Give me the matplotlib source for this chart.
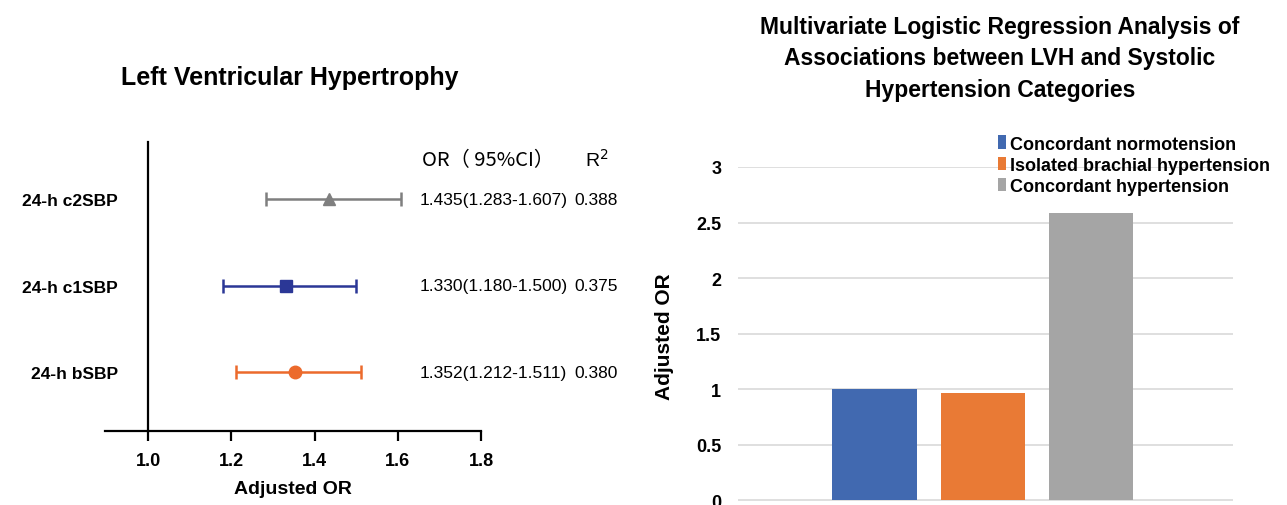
import numpy as np
import matplotlib
matplotlib.use("Agg")
import matplotlib.pyplot as plt

plt.rcParams['font.family'] = ['Liberation Sans', 'DejaVu Sans']

# forest plot data
rows = ["24-h c2SBP", "24-h c1SBP", "24-h bSBP"]
or_val = [1.435, 1.330, 1.352]
ci_low = [1.283, 1.180, 1.212]
ci_high = [1.607, 1.500, 1.511]
r2 = ["0.388", "0.375", "0.380"]
row_colors = ["#7f7f7f", "#2b3796", "#ec6a2c"]
row_markers = ["^", "s", "o"]

# bar chart data
groups = ["Concordant normotension", "Isolated brachial hypertension", "Concordant hypertension"]
adj_or = [1.0, 0.96, 2.59]
bar_colors = ["#4169b0", "#e97a35", "#a5a5a5"]

fig = plt.figure(figsize=(12.87, 5.06), dpi=100)

# ---- left: forest plot ----
ax1 = fig.add_axes([105/1287, 74/506, 376/1287, 289/506])
ypos = [2, 1, 0]
for i in range(3):
    ax1.errorbar(or_val[i], ypos[i],
                 xerr=[[or_val[i] - ci_low[i]], [ci_high[i] - or_val[i]]],
                 fmt=row_markers[i], color=row_colors[i], ms=9, lw=1.8,
                 capsize=5, capthick=1.8)
    ax1.text(1.653, ypos[i], "%.3f(%.3f-%.3f)" % (or_val[i], ci_low[i], ci_high[i]),
             fontsize=12.5, va='center', ha='left')
    ax1.text(2.025, ypos[i], r2[i], fontsize=12.5, va='center', ha='left')
ax1.text(1.658, 2.46, "OR（ 95%CI）", fontsize=14.5, va='center', ha='left',
         family=['Noto Sans CJK SC', 'DejaVu Sans'], fontweight='light')
ax1.text(2.05, 2.46, "R$^2$", fontsize=14, va='center', ha='left')

ax1.set_xlim(0.896, 1.8)
ax1.set_ylim(-0.682, 2.659)
ax1.spines['left'].set_position(('data', 1.0))
ax1.spines['right'].set_visible(False)
ax1.spines['top'].set_visible(False)
ax1.spines['left'].set_linewidth(1.6)
ax1.spines['bottom'].set_linewidth(1.6)
ax1.set_xticks([1.0, 1.2, 1.4, 1.6, 1.8])
ax1.set_xticklabels(["1.0", "1.2", "1.4", "1.6", "1.8"], fontsize=13, fontweight='bold')
ax1.tick_params(axis='x', length=7, width=1.6, pad=8)
ax1.set_yticks(ypos)
ax1.set_yticklabels(rows, fontsize=12.5, fontweight='bold')
ax1.tick_params(axis='y', length=0, pad=22)
ax1.set_xlabel("Adjusted OR", fontsize=14, fontweight='bold', labelpad=8)
fig.text(290/1287, 1 - 78/506, "Left Ventricular Hypertrophy", fontsize=18,
         fontweight='bold', ha='center', va='center')

# ---- right: bar chart ----
ax2 = fig.add_axes([738/1287, 0, 495/1287, 338/506])
xpos = np.arange(3)
bars = ax2.bar(xpos, adj_or, width=0.78, color=bar_colors, zorder=3)
ax2.set_xlim(-1.26, 3.31)
ax2.set_ylim(-0.045, 3.0)
ax2.set_yticks([0, 0.5, 1, 1.5, 2, 2.5, 3])
ax2.set_yticklabels(["0", "0.5", "1", "1.5", "2", "2.5", "3"], fontsize=13, fontweight='bold')
ax2.tick_params(axis='y', length=0, pad=12)
ax2.set_xticks([])
ax2.grid(axis='y', color='#d9d9d9', lw=1.2, zorder=0)
for s in ax2.spines.values():
    s.set_visible(False)
ax2.set_ylabel("Adjusted OR", fontsize=15, fontweight='bold', labelpad=16)
ax2.legend(bars, groups, loc='upper left', bbox_to_anchor=(0.51, 1.115),
           frameon=False, prop={'weight': 'bold', 'size': 13},
           handlelength=0.45, handleheight=0.8, handletextpad=0.25,
           labelspacing=0.22, borderaxespad=0)
fig.text(1000/1287, 1 - 59/506,
         "Multivariate Logistic Regression Analysis of\nAssociations between LVH and Systolic\nHypertension Categories",
         fontsize=16.5, fontweight='bold', ha='center', va='center', linespacing=1.45)

fig.savefig("out.png", dpi=100)
